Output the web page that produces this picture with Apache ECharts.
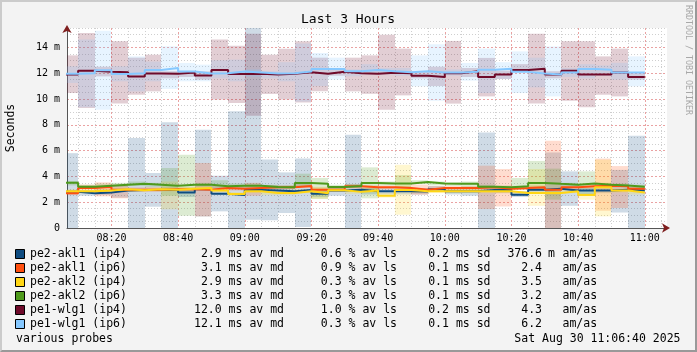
<!DOCTYPE html>
<html>
<head>
<meta charset="utf-8">
<title>Last 3 Hours</title>
<script src="https://cdn.jsdelivr.net/npm/echarts@6/dist/echarts.min.js"></script>
<style>
  html, body { margin: 0; padding: 0; background: #f3f3f3; }
  #wrap { position: relative; width: 697px; height: 352px; }
  #main { width: 697px; height: 352px; }
  #frame {
    position: absolute; left: 0; top: 0; width: 697px; height: 352px;
    box-sizing: border-box; border-style: solid; border-width: 2px;
    border-color: #cbcbcb #999 #999 #cbcbcb; pointer-events: none;
  }
</style>
</head>
<body>
<div id="wrap"><div id="main"></div><div id="frame"></div></div>
<script>
// time window (minutes since midnight): 08:06:40 .. 11:06:40, data in 5 minute bins from 08:05
var windowStart = '08:06:40';
var windowEnd = '11:06:40';
var firstBin = '08:05';
var binMinutes = 5;
var timeLabels = ['08:20', '08:40', '09:00', '09:20', '09:40', '10:00', '10:20', '10:40', '11:00'];
var yLabels = [0, 2, 4, 6, 8, 10, 12, 14];
var yMax = 15.5;

var names = ['pe2-akl1 (ip4)', 'pe2-akl1 (ip6)', 'pe2-akl2 (ip4)', 'pe2-akl2 (ip6)', 'pe1-wlg1 (ip4)', 'pe1-wlg1 (ip6)'];
var avgMedian = ['2.9', '3.1', '2.9', '3.3', '12.0', '12.1'];
var avgLoss = ['0.6', '0.9', '0.3', '0.3', '1.0', '0.3'];
var avgSd = ['0.2', '0.1', '0.1', '0.1', '0.2', '0.1'];
var amAs = ['376.6', '2.4', '3.5', '3.2', '4.3', '6.2'];
var amAsUnit = ['m', '', '', '', '', ''];

// median (ms) and smoke band low/high per 5 min bin
var akl1v4Med = [2.8,2.7,2.75,2.9,2.95,2.95,2.95,2.75,3.0,2.65,2.55,2.95,2.9,2.85,2.95,2.65,2.9,2.97,2.84,2.84,2.84,2.82,3.0,2.84,2.84,2.95,2.97,2.58,2.97,3.05,2.9,2.9,2.9,2.97,2.9];
var akl1v4Low = [0,2.5,2.55,2.35,0,1.65,0,2.4,0.9,1.29,0,0.64,0.6,1.16,0.08,2.4,2.5,0,2.6,2.6,2.6,2.6,2.8,2.6,2.5,0,2.7,2.4,2.7,0,1.72,2.6,2.7,1.2,0];
var akl1v4High = [5.8,2.95,3.0,3.35,6.97,4.26,8.19,3.1,7.62,4.05,9.04,15.6,5.3,4.31,5.38,2.95,3.15,7.23,3.1,3.1,3.1,3.1,3.25,3.1,3.0,7.41,3.2,2.85,3.2,5.86,4.39,3.1,3.15,4.5,7.15];

var akl1v6Med = [2.7,3.1,3.18,2.97,2.97,2.97,3.0,3.0,2.97,3.1,3.05,3.1,3.15,3.15,3.25,2.97,2.97,3.23,3.16,3.16,3.1,2.97,3.1,3.1,3.1,3.15,3.05,3.1,3.16,2.97,3.16,3.23,3.28,3.23,3.05];
var akl1v6Low = [2.55,2.97,2.45,2.3,2.8,2.8,2.85,2.85,0.9,2.95,2.9,2.5,3.0,3.0,3.1,2.8,2.8,3.05,3.0,3.0,2.95,2.58,2.95,2.95,2.95,1.47,1.67,2.95,3.0,0,3.0,3.05,1.34,1.55,2.9];
var akl1v6High = [2.9,3.36,3.54,3.36,3.15,3.15,3.15,3.15,5.04,3.25,3.2,3.5,3.3,3.3,3.4,3.15,3.15,3.4,3.3,3.3,3.25,3.36,3.25,3.25,3.25,4.83,4.57,3.25,3.3,6.77,3.3,3.4,5.38,4.8,3.2];

var akl2v4Med = [2.85,2.84,2.9,3.0,2.92,3.0,2.97,3.05,3.1,2.9,2.63,2.85,2.71,2.71,2.84,2.7,2.92,2.8,2.9,2.5,2.95,2.84,2.84,2.84,2.84,2.84,2.84,2.71,2.71,2.71,2.84,2.55,3.15,2.9,2.75];
var akl2v4Low = [2.7,2.7,2.75,2.85,2.8,2.85,1.45,2.9,2.95,2.75,2.5,2.7,2.55,2.55,2.7,2.26,2.8,2.65,2.75,2.35,1.03,2.7,2.7,2.7,2.7,2.7,2.7,2.55,1.72,2.55,2.7,2.2,0.9,2.75,2.6];
var akl2v4High = [3.0,3.0,3.05,3.15,3.05,3.15,3.6,3.2,3.25,3.05,2.8,3.0,2.85,2.85,3.0,3.2,3.05,2.95,3.05,2.75,4.9,3.0,3.0,3.0,3.0,3.0,3.0,2.85,4.57,2.85,3.0,2.7,5.3,3.05,2.9];

var akl2v6Med = [3.5,3.2,3.28,3.36,3.43,3.36,3.28,3.36,3.36,3.23,3.28,3.28,3.18,3.15,3.49,3.43,3.18,3.25,3.49,3.45,3.45,3.56,3.45,3.42,3.42,3.2,3.15,3.23,3.49,3.42,3.36,3.45,3.36,3.3,3.2];
var akl2v6Low = [3.3,3.05,3.1,3.2,3.25,3.2,2.5,0.95,3.2,3.1,3.1,3.1,3.0,3.0,3.2,2.26,3.0,3.1,2.3,3.3,3.1,3.4,3.3,3.25,3.0,3.05,3.0,2.97,2.9,2.2,3.2,2.6,3.2,3.15,3.05];
var akl2v6High = [3.65,3.35,3.45,3.5,3.6,3.5,4.65,5.68,3.5,3.7,3.45,3.45,3.35,3.3,4.21,3.88,3.35,3.4,4.7,3.6,4.1,3.7,3.6,3.55,3.6,3.35,3.3,3.88,5.2,4.6,3.5,4.39,3.5,3.45,3.35];

var wlg1v4Med = [11.9,12.18,12.1,12.07,11.75,11.98,11.96,12.05,11.82,12.25,11.93,11.95,11.9,11.95,12.07,11.96,12.11,12.0,11.96,12.03,12.0,11.8,11.7,12.0,12.15,11.7,11.89,12.24,12.35,11.89,12.19,11.89,11.89,12.06,11.7];
var wlg1v4Low = [10.46,9.3,11.75,9.64,10.33,10.59,11.6,11.7,11.5,9.95,9.69,8.7,10.39,9.95,9.73,10.6,11.8,10.59,10.4,9.17,10.28,11.6,11.0,9.64,11.7,10.2,11.55,12.1,9.64,11.6,9.87,9.35,10.33,10.2,11.5];
var wlg1v4High = [13.38,15.11,12.5,14.47,13.2,13.43,12.15,12.14,12.14,14.6,14.13,15.06,13.43,13.9,14.47,13.2,12.3,13.2,13.38,14.98,13.9,12.1,12.5,14.5,12.4,13.18,12.2,12.7,15.06,12.15,14.47,14.47,13.3,13.9,12.0];

var wlg1v6Med = [11.96,12.0,12.22,11.93,12.0,12.25,12.4,12.12,11.97,12.0,12.12,12.05,11.97,12.0,12.12,12.33,12.33,12.14,12.24,12.14,12.08,12.14,12.06,12.06,12.1,12.27,12.35,12.1,11.98,11.89,12.06,12.33,12.27,12.06,12.06];
var wlg1v6Low = [11.24,9.35,9.17,11.37,10.59,11.37,10.78,11.37,11.37,11.6,11.37,11.7,11.6,11.37,9.8,11.0,11.5,11.75,11.9,11.9,11.8,10.98,9.87,11.8,11.42,10.46,11.55,10.46,10.9,10.2,11.7,11.6,11.8,11.5,10.98];
var wlg1v6High = [12.53,14.6,15.29,12.53,13.3,12.9,14.08,12.79,12.66,13.0,13.05,12.3,12.15,12.85,14.3,13.56,13.2,12.3,12.7,12.4,12.4,13.38,14.24,12.3,12.79,13.9,12.85,13.69,13.2,14.07,12.4,12.7,12.6,12.8,13.3];

var colors = ['#0f4c81', '#ff4f0f', '#ffd614', '#4e9a1c', '#6e0a2a', '#86c8ff'];
var bandAlpha = 0.2;

var FONT = '"DejaVu Sans Mono", monospace';

function toMin(s) {
  var p = s.split(':');
  return (+p[0]) * 60 + (+p[1]) + (p[2] ? (+p[2]) / 60 : 0);
}
function fmtTime(v) {
  var m = Math.round(v);
  var h = Math.floor(m / 60), mm = m % 60;
  return (h < 10 ? '0' : '') + h + ':' + (mm < 10 ? '0' : '') + mm;
}
function rgba(hex, a) {
  var n = parseInt(hex.slice(1), 16);
  return 'rgba(' + (n >> 16) + ',' + ((n >> 8) & 255) + ',' + (n & 255) + ',' + a + ')';
}

var xMin = toMin(windowStart), xMax = toMin(windowEnd), bin0 = toMin(firstBin);
var xMajor = timeLabels.map(toMin);
var xMinor = [];
for (var t = bin0 + binMinutes; t <= xMax; t += binMinutes) {
  if (xMajor.indexOf(t) < 0) xMinor.push(t);
}
var yMinor = [];
for (var v = 0.5; v <= yMax; v += 0.5) {
  if (yLabels.indexOf(v) < 0) yMinor.push(v);
}

var probes = [
  { med: akl1v4Med, lo: akl1v4Low, hi: akl1v4High },
  { med: akl1v6Med, lo: akl1v6Low, hi: akl1v6High },
  { med: akl2v4Med, lo: akl2v4Low, hi: akl2v4High },
  { med: akl2v6Med, lo: akl2v6Low, hi: akl2v6High },
  { med: wlg1v4Med, lo: wlg1v4Low, hi: wlg1v4High },
  { med: wlg1v6Med, lo: wlg1v6Low, hi: wlg1v6High }
];

function bandSeries(p, i) {
  var data = [];
  for (var k = 0; k < p.med.length; k++) {
    var s = bin0 + k * binMinutes;
    data.push([s, s + binMinutes, p.lo[k], p.hi[k]]);
  }
  var fill = rgba(colors[i], bandAlpha);
  return {
    type: 'custom',
    name: names[i] + ' band',
    silent: true,
    z: 2,
    encode: { x: [0, 1], y: [2, 3] },
    renderItem: function (params, api) {
      var a = api.coord([api.value(0), api.value(3)]);
      var b = api.coord([api.value(1), api.value(2)]);
      var cs = params.coordSys;
      var x0 = Math.round(Math.max(a[0], cs.x));
      var x1 = Math.round(Math.min(b[0], cs.x + cs.width));
      var y0 = Math.max(a[1], cs.y);
      var y1 = Math.min(b[1], cs.y + cs.height);
      if (x1 <= x0 || y1 <= y0) return null;
      return {
        type: 'rect',
        shape: { x: x0, y: y0, width: x1 - x0, height: y1 - y0 },
        style: { fill: fill }
      };
    },
    data: data
  };
}

function medianSeries(p, i) {
  var data = [];
  for (var k = 0; k < p.med.length; k++) {
    data.push([bin0 + k * binMinutes, p.med[k]]);
  }
  // close the last step at the end of its bin
  data.push([bin0 + p.med.length * binMinutes, p.med[p.med.length - 1]]);
  return {
    type: 'line',
    name: names[i],
    step: 'end',
    symbol: 'none',
    silent: true,
    z: 3,
    lineStyle: { color: colors[i], width: 2 },
    itemStyle: { color: colors[i] },
    data: data
  };
}

var series = probes.map(bandSeries).concat(probes.map(medianSeries));

// legend block drawn as text rows
var graphic = [];
function txt(x, y, s, align, size, color) {
  return {
    type: 'text', x: x, y: y, silent: true,
    style: {
      text: s, fill: color || '#000', font: (size || 11.5) + 'px ' + FONT,
      align: align, textAlign: align, verticalAlign: 'middle', textVerticalAlign: 'middle'
    }
  };
}
graphic.push(txt(348, 19.5, 'Last 3 Hours', 'center', 13));
graphic.push({
  type: 'text', x: 688, y: 60, rotation: -Math.PI / 2, silent: true,
  style: {
    text: 'RRDTOOL / TOBI OETIKER', fill: '#a8a8a8', font: '8.3px ' + FONT,
    align: 'center', textAlign: 'center', verticalAlign: 'middle', textVerticalAlign: 'middle'
  }
});
var rowTop = 254.3, rowGap = 14;
names.forEach(function (n, i) {
  var cy = rowTop + i * rowGap;
  graphic.push({
    type: 'rect', silent: true,
    shape: { x: 15.5, y: Math.round(cy) - 4.5, width: 9, height: 9 },
    style: { fill: colors[i], stroke: '#000', lineWidth: 1 }
  });
  graphic.push(txt(30, cy, n, 'left'));
  graphic.push(txt(284, cy, avgMedian[i] + ' ms av md', 'right'));
  graphic.push(txt(397, cy, avgLoss[i] + ' % av ls', 'right'));
  graphic.push(txt(490.5, cy, avgSd[i] + ' ms sd', 'right'));
  graphic.push(txt(542, cy, amAs[i], 'right'));
  if (amAsUnit[i]) graphic.push(txt(548, cy, amAsUnit[i], 'left'));
  graphic.push(txt(562.5, cy, 'am/as', 'left'));
});
graphic.push(txt(16, rowTop + 6 * rowGap + 0.4, 'various probes', 'left'));
graphic.push(txt(680.5, rowTop + 6 * rowGap + 0.4, 'Sat Aug 30 11:06:40 2025', 'right'));

var myChart = echarts.init(document.getElementById('main'));
myChart.setOption({
  animation: false,
  backgroundColor: '#f3f3f3',
  textStyle: { fontFamily: FONT },
  grid: {
    left: 67, top: 28, width: 600, height: 200,
    containLabel: false, outerBoundsMode: 'none',
    show: true, backgroundColor: '#ffffff', borderWidth: 0
  },
  xAxis: [
    {
      type: 'value', min: xMin, max: xMax, position: 'bottom',
      axisLine: { show: true, onZero: false, lineStyle: { color: '#555', width: 1 } },
      axisTick: { show: false, customValues: xMajor },
      axisLabel: { customValues: xMajor, formatter: fmtTime, margin: 5, color: '#000', fontFamily: FONT, fontSize: 10 },
      splitLine: { show: true, lineStyle: { color: '#eaa2a2', width: 1, type: [2, 2] } }
    },
    {
      type: 'value', min: xMin, max: xMax, position: 'bottom',
      axisLine: { show: true, onZero: false, symbol: ['none', 'arrow'], symbolSize: [7, 8], symbolOffset: [0, 3],
        lineStyle: { color: '#7f1f1f', width: 0 } },
      axisTick: { show: false, customValues: xMinor },
      axisLabel: { show: false },
      splitLine: { show: true, lineStyle: { color: '#cfcfcf', width: 1, type: [1, 2] } }
    }
  ],
  yAxis: [
    {
      type: 'value', min: 0, max: yMax, position: 'left',
      name: 'Seconds', nameLocation: 'middle', nameGap: 50, nameRotate: 90,
      nameTextStyle: { fontFamily: FONT, fontSize: 11.5, color: '#000' },
      axisLine: { show: true, lineStyle: { color: '#555', width: 1 } },
      axisTick: { show: false, customValues: yLabels },
      axisLabel: {
        customValues: yLabels, margin: 7, color: '#000', fontFamily: FONT, fontSize: 10,
        formatter: function (v) { return v === 0 ? '0' : v + ' m'; }
      },
      splitLine: { show: true, lineStyle: { color: '#eaa2a2', width: 1, type: [2, 2] } }
    },
    {
      type: 'value', min: 0, max: yMax, position: 'left',
      axisLine: { show: true, symbol: ['none', 'arrow'], symbolSize: [7, 8], symbolOffset: [0, 3],
        lineStyle: { color: '#7f1f1f', width: 0 } },
      axisTick: { show: false, customValues: yMinor },
      axisLabel: { show: false },
      splitLine: { show: true, lineStyle: { color: '#cfcfcf', width: 1, type: [1, 2] } }
    }
  ],
  graphic: graphic,
  series: series
});
</script>
</body>
</html>
